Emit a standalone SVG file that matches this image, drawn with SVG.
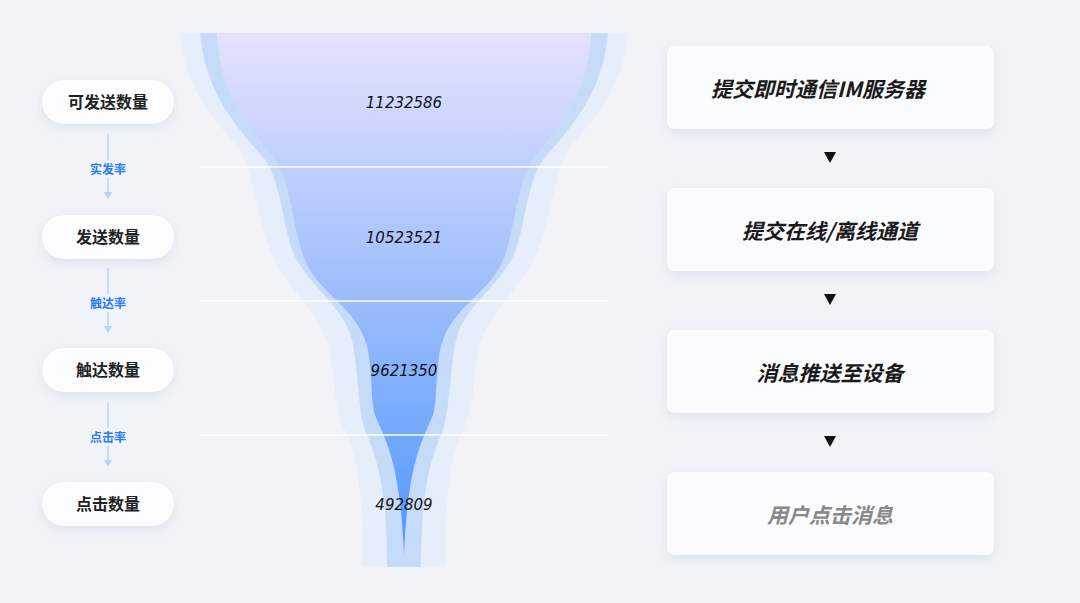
<svg xmlns="http://www.w3.org/2000/svg" width="1080" height="603" viewBox="0 0 1080 603">
<style>
.pill{fill:#fbfcfe;stroke:#ffffff;stroke-width:1.5}
.pt{font-family:"Noto Sans CJK SC",sans-serif;font-size:16px;font-weight:700;fill:#222;text-anchor:middle}
.rt{font-family:"Noto Sans CJK SC",sans-serif;font-size:12px;font-weight:700;fill:#2b7bf5;text-anchor:middle}
.box{fill:#fafbfd;stroke:#ffffff;stroke-width:1.5}
.bt{font-family:"Noto Sans CJK SC",sans-serif;font-size:21px;font-weight:700;font-style:italic;fill:#1a1a1a;text-anchor:middle}
.num{font-family:"DejaVu Sans",sans-serif;font-size:15px;font-style:italic;fill:#111;text-anchor:middle}
.sep{stroke:#ffffff;stroke-width:1.5}
.arr{stroke:#b8d4f7;stroke-width:1.5;fill:none}
</style>
<defs>
<linearGradient id="g" x1="0" y1="0" x2="0" y2="1">
<stop offset="0" stop-color="#e4e2fe"/><stop offset="0.5" stop-color="#9dbdfc"/><stop offset="1" stop-color="#4f97fb"/>
</linearGradient>
<filter id="sh" x="-20%" y="-30%" width="140%" height="170%"><feDropShadow dx="0" dy="4" stdDeviation="5" flood-color="#9fb2d4" flood-opacity="0.25"/></filter>
</defs>
<rect width="1080" height="603" fill="#f0f3f8"/>
<g id="funnel">
<path d="M180,33 C185,90 215,120 240,150 C255,175 258,230 275,260 C285,285 318,310 328,345 C335,370 333,410 345,430 C355,450 363,480 363,567 L445,567 C445,480 453,450 463,430 C475,410 473,370 480,345 C490,310 523,285 533,260 C550,230 553,175 568,150 C593,120 623,90 628,33 Z" fill="#e6eefa"/>
<path d="M200,33 C205,95 240,130 265,160 C285,190 282,240 300,265 C315,290 345,310 352,340 C358,365 358,410 365,430 C375,455 387,480 387,567 L421,567 C421,480 433,455 443,430 C450,410 450,365 456,340 C463,310 493,290 508,265 C526,240 523,190 543,160 C568,130 603,95 608,33 Z" fill="#c6dbfa"/>
<path d="M217,33 C220,100 250,125 275,160 C295,190 292,240 310,270 C325,295 355,310 365,340 C373,360 370,400 375,415 C385,440 400,460 404,555 C408,460 423,440 433,415 C438,400 435,360 443,340 C453,310 483,295 498,270 C516,240 513,190 533,160 C558,125 588,100 591,33 Z" fill="url(#g)"/>
<line class="sep" x1="200" y1="167" x2="608" y2="167"/>
<line class="sep" x1="200" y1="301" x2="608" y2="301"/>
<line class="sep" x1="200" y1="435" x2="608" y2="435"/>
<text class="num" x="404" y="108">11232586</text>
<text class="num" x="404" y="243">10523521</text>
<text class="num" x="404" y="376">9621350</text>
<text class="num" x="404" y="510">492809</text>
</g>
<g id="connectors">
<line class="arr" x1="108" y1="134" x2="108" y2="196"/><path d="M104,192 L112,192 L108,199 Z" fill="#b8d4f7"/>
<line class="arr" x1="108" y1="268" x2="108" y2="330"/><path d="M104,326 L112,326 L108,333 Z" fill="#b8d4f7"/>
<line class="arr" x1="108" y1="402" x2="108" y2="464"/><path d="M104,460 L112,460 L108,467 Z" fill="#b8d4f7"/>
<rect x="86" y="160" width="44" height="18" fill="#f0f3f8"/><text class="rt" x="108" y="174">实发率</text>
<rect x="86" y="294" width="44" height="18" fill="#f0f3f8"/><text class="rt" x="108" y="308">触达率</text>
<rect x="86" y="428" width="44" height="18" fill="#f0f3f8"/><text class="rt" x="108" y="442">点击率</text>
<path d="M824,152 L836,152 L830,163 Z" fill="#111"/>
<path d="M824,294 L836,294 L830,305 Z" fill="#111"/>
<path d="M824,436 L836,436 L830,447 Z" fill="#111"/>
</g>
<g id="n1"><rect class="pill" filter="url(#sh)" x="43" y="81" width="130" height="42" rx="21"/><text class="pt" x="108" y="108">可发送数量</text></g>
<g id="n2"><rect class="pill" filter="url(#sh)" x="43" y="216" width="130" height="42" rx="21"/><text class="pt" x="108" y="243">发送数量</text></g>
<g id="n3"><rect class="pill" filter="url(#sh)" x="43" y="349" width="130" height="42" rx="21"/><text class="pt" x="108" y="376">触达数量</text></g>
<g id="n4"><rect class="pill" filter="url(#sh)" x="43" y="483" width="130" height="42" rx="21"/><text class="pt" x="108" y="510">点击数量</text></g>
<g id="b1"><rect class="box" filter="url(#sh)" x="668" y="47" width="325" height="81" rx="6"/><text class="bt" x="818" y="97">提交即时通信IM服务器</text></g>
<g id="b2"><rect class="box" filter="url(#sh)" x="668" y="189" width="325" height="81" rx="6"/><text class="bt" x="830" y="239">提交在线/离线通道</text></g>
<g id="b3"><rect class="box" filter="url(#sh)" x="668" y="331" width="325" height="81" rx="6"/><text class="bt" x="830" y="381">消息推送至设备</text></g>
<g id="b4"><rect class="box" filter="url(#sh)" x="668" y="473" width="325" height="81" rx="6"/><text class="bt" x="830" y="523" fill="#888" style="fill:#888">用户点击消息</text></g>
</svg>
